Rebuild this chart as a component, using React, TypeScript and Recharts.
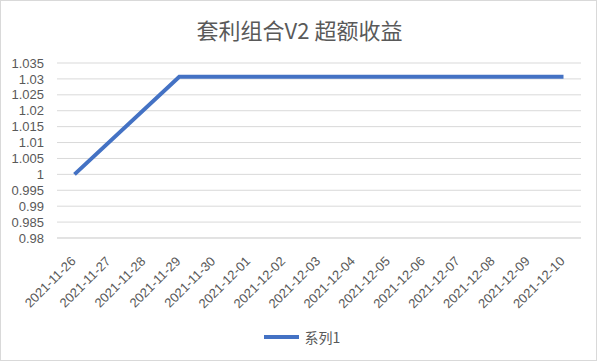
import { CartesianGrid, Legend, Line, LineChart, XAxis, YAxis } from 'recharts';

const dates = [
  '2021-11-26', '2021-11-27', '2021-11-28', '2021-11-29', '2021-11-30',
  '2021-12-01', '2021-12-02', '2021-12-03', '2021-12-04', '2021-12-05',
  '2021-12-06', '2021-12-07', '2021-12-08', '2021-12-09', '2021-12-10',
];
// weekends have no value, line is drawn straight across them
const series1: (number | null)[] = [
  1, null, null, 1.0307, 1.0307,
  1.0307, 1.0307, 1.0307, null, null,
  1.0307, 1.0307, 1.0307, 1.0307, 1.0307,
];
const yTicks = [0.98, 0.985, 0.99, 0.995, 1, 1.005, 1.01, 1.015, 1.02, 1.025, 1.03, 1.035];

const data = dates.map((d, i) => ({ date: d, 系列1: series1[i] }));

const FONT = '"Microsoft YaHei", "Noto Sans CJK SC", sans-serif';
const NUM_FONT = '"Liberation Sans", Arial, sans-serif';
const TEXT = '#595959';
const BLUE = '#4472C4';

function DateTick(props: any) {
  const { x, y, payload } = props;
  return (
    <text
      x={x + 2}
      y={y + 16}
      transform={`rotate(-45, ${x + 2}, ${y + 16})`}
      textAnchor="end"
      fill={TEXT}
      fontSize={13}
      fontFamily={NUM_FONT}
    >
      {payload.value}
    </text>
  );
}

function LegendBox() {
  return (
    <div style={{ height: 20, paddingLeft: 23, display: 'flex', justifyContent: 'center', alignItems: 'center' }}>
      <svg width={36} height={20}>
        <line x1={0} y1={10} x2={35} y2={10} stroke={BLUE} strokeWidth={4} />
      </svg>
      <span style={{ marginLeft: 5, fontSize: 14, color: TEXT, fontFamily: FONT, lineHeight: '20px' }}>系列1</span>
    </div>
  );
}

export default function App() {
  return (
    <div
      style={{
        position: 'absolute',
        left: 0,
        top: 0,
        width: 597,
        height: 361,
        boxSizing: 'border-box',
        border: '1px solid #d9d9d9',
        background: '#fff',
        fontFamily: FONT,
      }}
    >
      <div
        style={{
          position: 'absolute',
          left: 0,
          top: 14,
          width: 597,
          textAlign: 'center',
          fontSize: 22,
          color: TEXT,
          lineHeight: '28px',
        }}
      >
        套利组合V2 超额收益
      </div>
      <div style={{ position: 'absolute', left: -1, top: -1 }}>
        <LineChart width={597} height={361} data={data} margin={{ top: 63, right: 16, bottom: 14, left: 0 }}>
          <CartesianGrid vertical={false} stroke="#d9d9d9" />
          <XAxis
            dataKey="date"
            interval={0}
            height={89}
            tickLine={false}
            axisLine={{ stroke: '#d9d9d9' }}
            padding={{ left: 17.5, right: 17.5 }}
            tick={<DateTick />}
          />
          <YAxis
            width={57}
            domain={[0.98, 1.035]}
            ticks={yTicks}
            interval={0}
            tickLine={false}
            axisLine={false}
            tickMargin={7}
            tick={{ fill: TEXT, fontSize: 13, fontFamily: NUM_FONT }}
          />
          <Legend verticalAlign="bottom" content={<LegendBox />} />
          <Line
            type="linear"
            dataKey="系列1"
            stroke={BLUE}
            strokeWidth={4}
            dot={false}
            connectNulls
            isAnimationActive={false}
          />
        </LineChart>
      </div>
    </div>
  );
}
